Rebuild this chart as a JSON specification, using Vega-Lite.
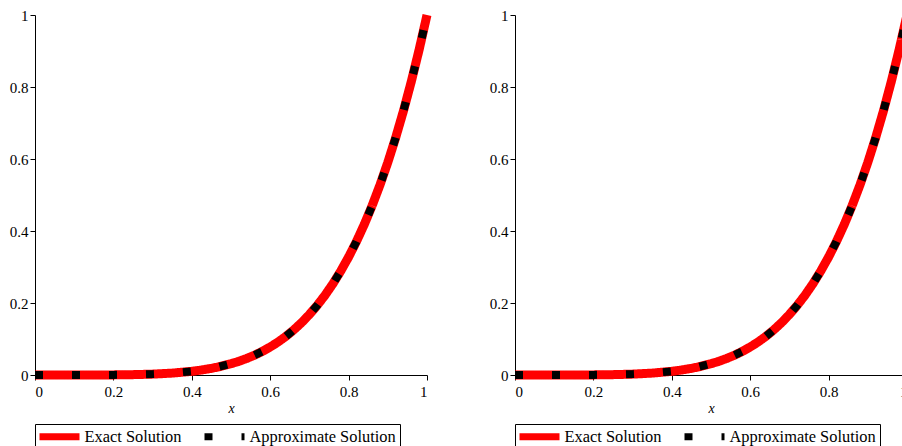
{
  "$schema": "https://vega.github.io/schema/vega-lite/v6.json",
  "padding": {"left": 9, "top": -3, "right": 0, "bottom": 0},
  "background": "white",
  "bounds": "flush",
  "spacing": 88,
  "config": {
    "font": "Times New Roman, Liberation Serif, serif",
    "view": {"stroke": null},
    "axis": {
      "grid": false,
      "domainColor": "black",
      "domainWidth": 1,
      "tickColor": "black",
      "tickWidth": 1,
      "labelColor": "black",
      "labelFont": "Times New Roman, Liberation Serif, serif",
      "labelFontSize": 15,
      "titleFont": "Times New Roman, Liberation Serif, serif",
      "titleColor": "black",
      "titleFontWeight": "normal",
      "labelPadding": 2
    },
    "legend": {
      "orient": "bottom",
      "direction": "horizontal",
      "title": null,
      "strokeColor": "black",
      "padding": 4,
      "offset": 9,
      "labelFont": "Times New Roman, Liberation Serif, serif",
      "labelFontSize": 16.4,
      "labelColor": "black",
      "labelOffset": 28.5,
      "columnPadding": 8,
      "symbolType": "M-1.6,0H6.4",
      "symbolSize": 100,
      "symbolStrokeWidth": 7,
      "symbolOpacity": 1
    }
  },
  "datasets": {
    "curve": [
      {"x": 0, "y": 0},
      {"x": 0.05, "y": 0.0000003},
      {"x": 0.1, "y": 0.00001},
      {"x": 0.15, "y": 0.0000759},
      {"x": 0.2, "y": 0.00032},
      {"x": 0.25, "y": 0.000977},
      {"x": 0.3, "y": 0.00243},
      {"x": 0.35, "y": 0.00525},
      {"x": 0.4, "y": 0.01024},
      {"x": 0.42, "y": 0.01307},
      {"x": 0.45, "y": 0.01845},
      {"x": 0.47, "y": 0.02294},
      {"x": 0.5, "y": 0.03125},
      {"x": 0.52, "y": 0.03802},
      {"x": 0.54, "y": 0.04592},
      {"x": 0.56, "y": 0.05507},
      {"x": 0.58, "y": 0.06564},
      {"x": 0.6, "y": 0.07776},
      {"x": 0.62, "y": 0.09161},
      {"x": 0.64, "y": 0.10737},
      {"x": 0.66, "y": 0.12523},
      {"x": 0.68, "y": 0.14539},
      {"x": 0.7, "y": 0.16807},
      {"x": 0.72, "y": 0.19349},
      {"x": 0.74, "y": 0.2219},
      {"x": 0.76, "y": 0.25355},
      {"x": 0.78, "y": 0.28872},
      {"x": 0.8, "y": 0.32768},
      {"x": 0.82, "y": 0.37074},
      {"x": 0.84, "y": 0.41821},
      {"x": 0.86, "y": 0.47043},
      {"x": 0.88, "y": 0.52773},
      {"x": 0.9, "y": 0.59049},
      {"x": 0.92, "y": 0.65908},
      {"x": 0.94, "y": 0.7339},
      {"x": 0.96, "y": 0.81537},
      {"x": 0.98, "y": 0.90392},
      {"x": 1, "y": 1}
    ]
  },
  "resolve": {
    "scale": {"color": "independent", "strokeDash": "independent"},
    "legend": {"color": "independent", "strokeDash": "independent"}
  },
  "hconcat": [
    {
      "width": 392,
      "height": 360,
      "data": {"name": "curve"},
      "layer": [
        {
          "mark": {"type": "line", "strokeWidth": 9, "strokeCap": "butt"},
          "encoding": {
            "x": {"field": "x", "type": "quantitative", "scale": {"domain": [0, 1], "nice": false},
              "axis": {"values": [0, 0.1, 0.2, 0.3, 0.4, 0.5, 0.6, 0.7, 0.8, 0.9, 1],
                "labelExpr": "round(datum.value*10)%2==0 ? format(datum.value, '~g') : ''",
                "labelFontSize": 15, "labelPadding": 4,
                "tickSize": {"condition": {"test": "round(datum.value*10)%2==1", "value": 3}, "value": 5},
                "title": "x", "titleFontStyle": "italic", "titleFontSize": 14, "titlePadding": 2}},
            "y": {"field": "y", "type": "quantitative", "scale": {"domain": [0, 1], "nice": false},
              "axis": {"values": [0, 0.1, 0.2, 0.3, 0.4, 0.5, 0.6, 0.7, 0.8, 0.9, 1],
                "labelExpr": "round(datum.value*10)%2==0 ? format(datum.value, '~g') : ''",
                "labelFontSize": 15,
                "tickSize": {"condition": {"test": "round(datum.value*10)%2==1", "value": 3}, "value": 5},
                "title": null}},
            "color": {"datum": "Exact Solution", "type": "nominal",
              "scale": {"domain": ["Exact Solution", "Approximate Solution"], "range": ["#ff0000", "#000000"]}},
            "strokeDash": {"datum": "Exact Solution", "type": "nominal",
              "scale": {"domain": ["Exact Solution", "Approximate Solution"], "range": [[1, 0], [8, 29]]}}
          }
        },
        {
          "mark": {"type": "line", "strokeWidth": 8, "strokeCap": "butt"},
          "encoding": {
            "x": {"field": "x", "type": "quantitative"},
            "y": {"field": "y", "type": "quantitative"},
            "color": {"datum": "Approximate Solution", "type": "nominal"},
            "strokeDash": {"datum": "Approximate Solution", "type": "nominal"}
          }
        }
      ]
    },
    {
      "width": 392,
      "height": 360,
      "data": {"name": "curve"},
      "layer": [
        {
          "mark": {"type": "line", "strokeWidth": 9, "strokeCap": "butt"},
          "encoding": {
            "x": {"field": "x", "type": "quantitative", "scale": {"domain": [0, 1], "nice": false},
              "axis": {"values": [0, 0.1, 0.2, 0.3, 0.4, 0.5, 0.6, 0.7, 0.8, 0.9, 1],
                "labelExpr": "round(datum.value*10)%2==0 ? format(datum.value, '~g') : ''",
                "labelFontSize": 15, "labelPadding": 4,
                "tickSize": {"condition": {"test": "round(datum.value*10)%2==1", "value": 3}, "value": 5},
                "title": "x", "titleFontStyle": "italic", "titleFontSize": 14, "titlePadding": 2}},
            "y": {"field": "y", "type": "quantitative", "scale": {"domain": [0, 1], "nice": false},
              "axis": {"values": [0, 0.1, 0.2, 0.3, 0.4, 0.5, 0.6, 0.7, 0.8, 0.9, 1],
                "labelExpr": "round(datum.value*10)%2==0 ? format(datum.value, '~g') : ''",
                "labelFontSize": 15,
                "tickSize": {"condition": {"test": "round(datum.value*10)%2==1", "value": 3}, "value": 5},
                "title": null}},
            "color": {"datum": "Exact Solution", "type": "nominal",
              "scale": {"domain": ["Exact Solution", "Approximate Solution"], "range": ["#ff0000", "#000000"]}},
            "strokeDash": {"datum": "Exact Solution", "type": "nominal",
              "scale": {"domain": ["Exact Solution", "Approximate Solution"], "range": [[1, 0], [8, 29]]}}
          }
        },
        {
          "mark": {"type": "line", "strokeWidth": 8, "strokeCap": "butt"},
          "encoding": {
            "x": {"field": "x", "type": "quantitative"},
            "y": {"field": "y", "type": "quantitative"},
            "color": {"datum": "Approximate Solution", "type": "nominal"},
            "strokeDash": {"datum": "Approximate Solution", "type": "nominal"}
          }
        }
      ]
    }
  ]
}
